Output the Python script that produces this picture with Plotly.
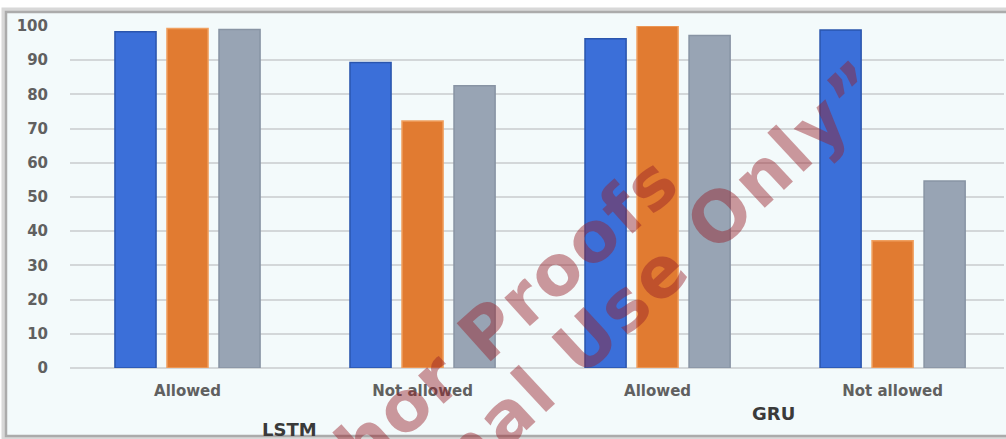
import plotly.graph_objects as go

# Category labels along the x axis and the model each pair belongs to
conditions = ["Allowed", "Not allowed", "Allowed", "Not allowed"]
models = ["LSTM", "GRU"]
positions = [0, 1, 2, 3]

# Scores per condition for the three series
series_blue = [98.3, 89.3, 96.3, 98.8]
series_orange = [99.3, 72.2, 100.0, 37.2]
series_gray = [99.0, 82.5, 97.2, 54.7]

y_ticks = [0, 10, 20, 30, 40, 50, 60, 70, 80, 90, 100]

W, H = 1006, 439
ML, MR, MT, MB = 70, 2, 26, 71
PW = W - ML - MR
PH = H - MT - MB


def px_x(p):
    return (p - ML) / PW


def px_y(p):
    return (H - MB - p) / PH


fig = go.Figure()
styles = [
    ("Series 1", series_blue, "#3b6fd9", "#2a55ad"),
    ("Series 2", series_orange, "#e17b31", "#f0a060"),
    ("Series 3", series_gray, "#98a4b4", "#8894a4"),
]
for name, vals, fill, edge in styles:
    fig.add_trace(go.Bar(
        x=positions, y=vals, name=name,
        marker=dict(color=fill, line=dict(color=edge, width=1.5)),
    ))

axis_font = dict(family="DejaVu Sans", size=15, color="#606060", weight="bold")

fig.update_layout(
    width=W, height=H,
    margin=dict(l=ML, r=MR, t=MT, b=MB, pad=0),
    barmode="group", bargap=0.336, bargroupgap=0.21,
    paper_bgcolor="white", plot_bgcolor="rgba(0,0,0,0)",
    showlegend=False,
    xaxis=dict(
        tickvals=positions, ticktext=conditions,
        range=[-0.5, 3.474], showgrid=False, zeroline=False, showline=False,
        ticks="outside", ticklen=9, tickcolor="rgba(0,0,0,0)",
        tickfont=axis_font,
    ),
    yaxis=dict(
        range=[0, 100], tickvals=y_ticks,
        showgrid=True, gridcolor="#d3d7d9", gridwidth=2,
        zeroline=True, zerolinecolor="#d3d7d9", zerolinewidth=2,
        showline=False,
        ticks="outside", ticklen=18, tickcolor="rgba(0,0,0,0)",
        tickfont=axis_font,
    ),
)

# Framed panel behind the chart
fig.add_shape(type="rect", xref="paper", yref="paper", layer="below",
              x0=px_x(4), x1=px_x(1012), y0=px_y(438), y1=px_y(10),
              line=dict(color="#d8d8d8", width=5), fillcolor="#f3fafb")
fig.add_shape(type="rect", xref="paper", yref="paper", layer="below",
              x0=px_x(6), x1=px_x(1010), y0=px_y(436), y1=px_y(12),
              line=dict(color="#ababab", width=2.5), fillcolor="rgba(0,0,0,0)")

# Model group labels
group_font = dict(family="DejaVu Sans", size=18, color="#3a3a3a", weight="bold")
fig.add_annotation(text=models[0], xref="paper", yref="paper",
                   x=px_x(289), y=px_y(429), showarrow=False, font=group_font,
                   xanchor="center", yanchor="middle")
fig.add_annotation(text=models[1], xref="paper", yref="paper",
                   x=px_x(773), y=px_y(413), showarrow=False, font=group_font,
                   xanchor="center", yanchor="middle")

# Diagonal watermark
wm_font = dict(family="DejaVu Sans", size=70, color="rgba(150,30,40,0.45)", weight="bold")
fig.add_annotation(text='<span style="letter-spacing:2px">Author Proofs</span>',
                   xref="paper", yref="paper", x=px_x(454), y=px_y(362),
                   showarrow=False, textangle=-42, font=wm_font,
                   xanchor="center", yanchor="middle")
fig.add_annotation(text='<span style="letter-spacing:3px">For Personal Use Only\u201d</span>',
                   xref="paper", yref="paper", x=px_x(515), y=px_y(408),
                   showarrow=False, textangle=-43, font=wm_font,
                   xanchor="center", yanchor="middle")

fig.write_html("out.html")
